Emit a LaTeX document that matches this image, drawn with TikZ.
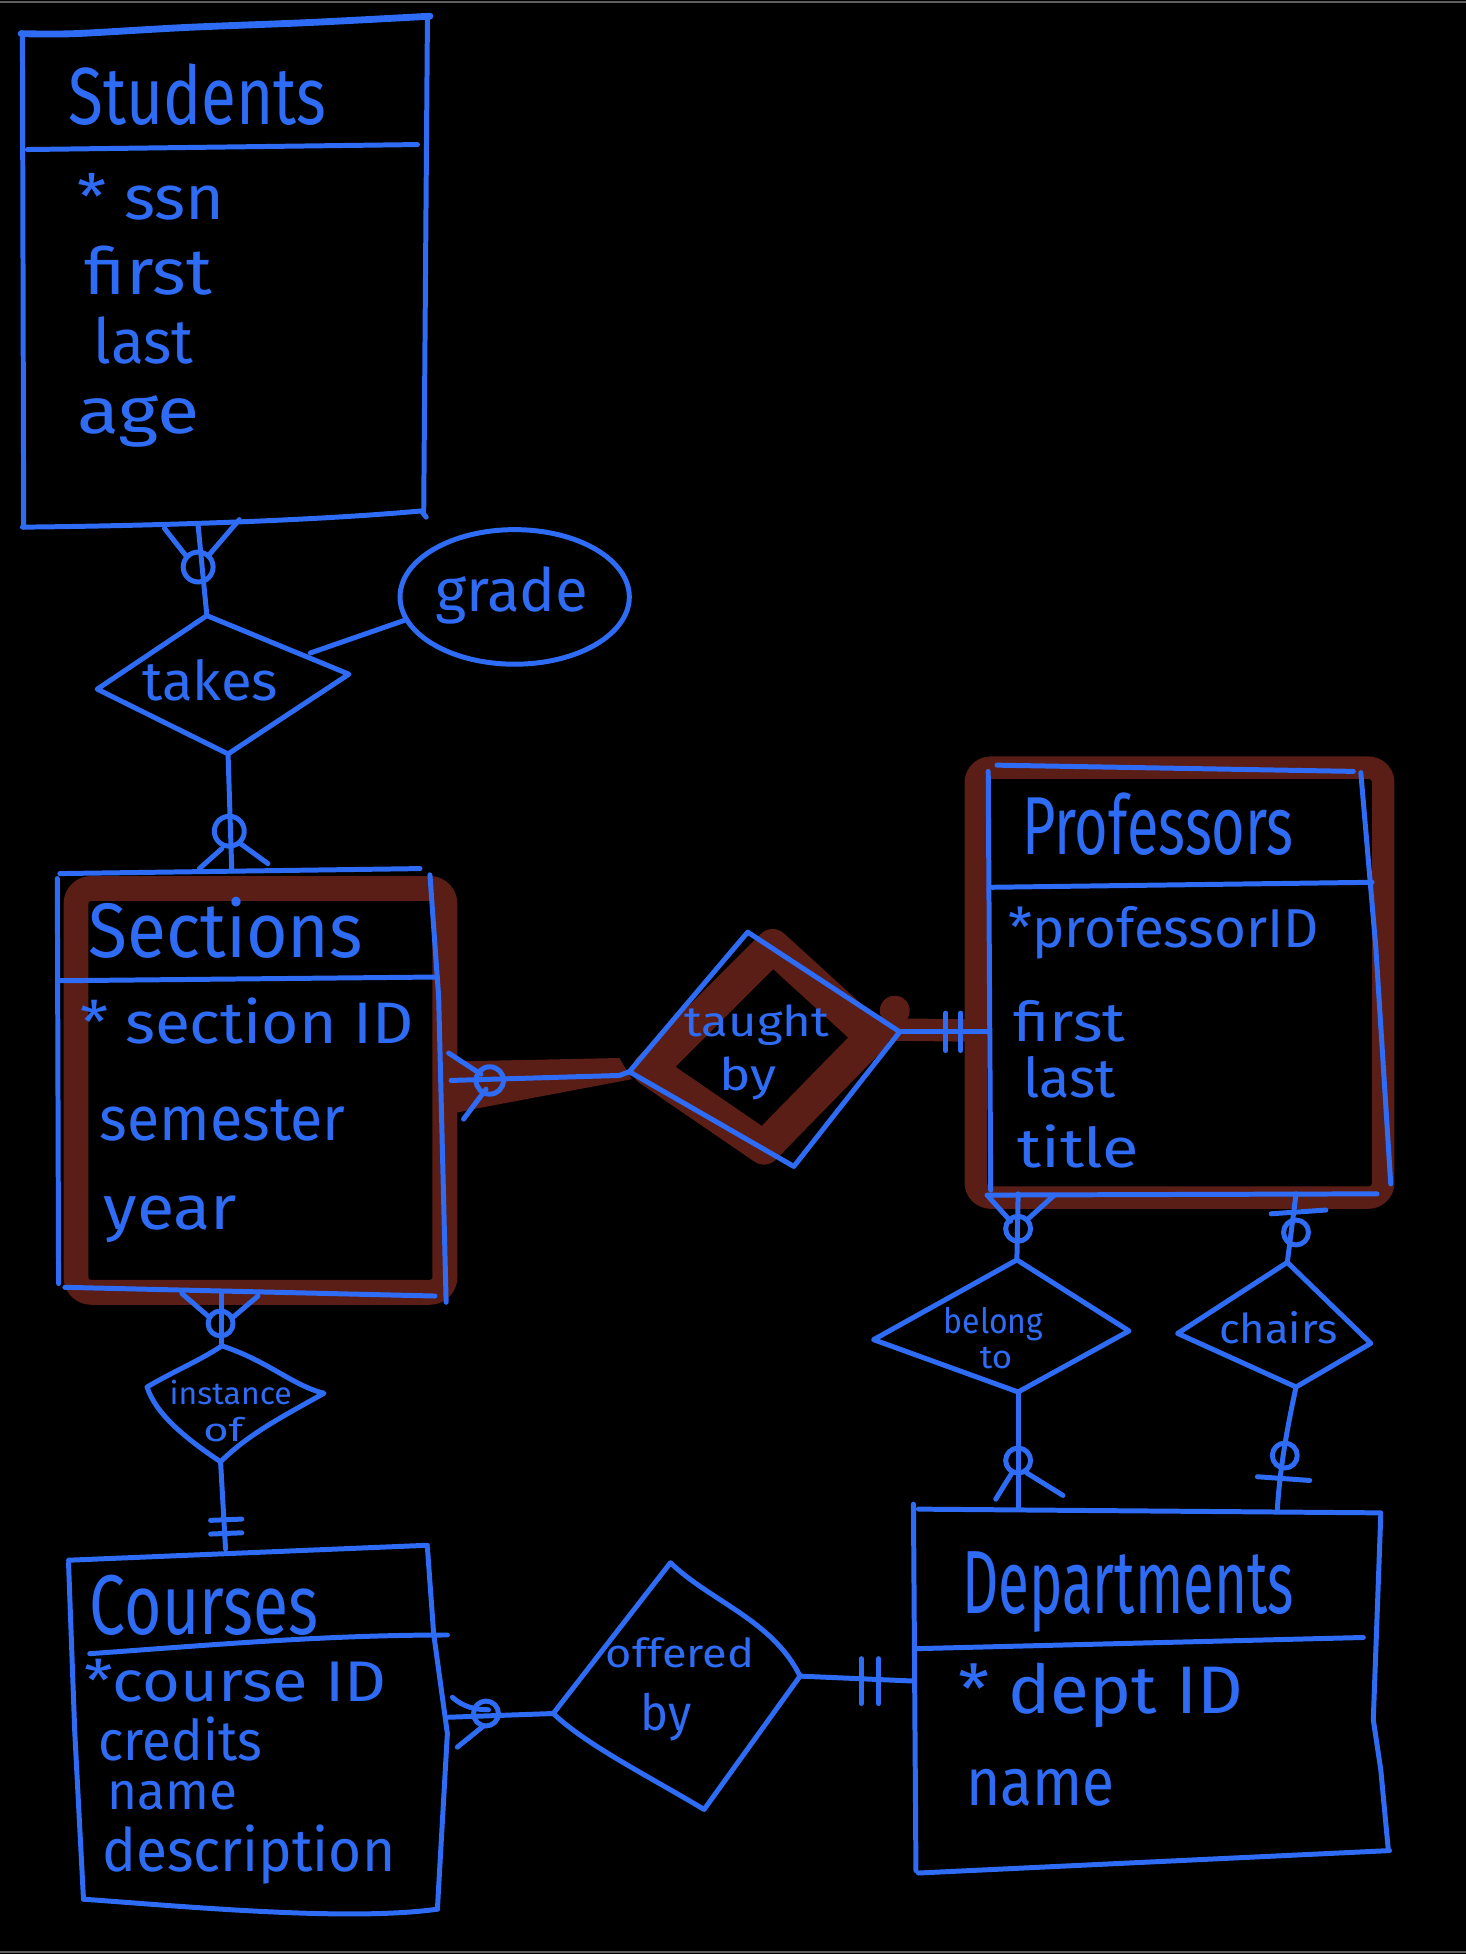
\documentclass[tikz,border=0pt]{standalone}
\usepackage{fontspec}
\setmainfont{Fira Sans}
\usepackage{graphicx}
\usetikzlibrary{shapes.geometric}
\definecolor{ink}{RGB}{47,108,246}
\definecolor{hilite}{RGB}{90,30,22}
\definecolor{rule}{RGB}{95,95,95}
% label at a given font size, stretched to a given printed width
\newcommand\fitw[3]{\resizebox{#2pt}{\height}{\fontsize{#1pt}{#1pt}\selectfont #3}}

\begin{document}
\begin{tikzpicture}[x=1pt,y=-1pt,
  pen/.style={draw=ink, line width=4pt, line cap=round, line join=round},
  thickpen/.style={pen, line width=5.5pt},
  band/.style={draw=hilite, line width=20pt, line cap=round, line join=round},
  lbl/.style={anchor=base west, inner sep=0pt, text=ink},
]
% canvas
\fill[black] (0,0) rectangle (1176,1568);
\useasboundingbox (0,0) rectangle (1176,1568);
\draw[rule, line width=1.6pt] (0,1.5) -- (1176,1.5);
\draw[rule, line width=1.6pt] (0,1566.5) -- (1176,1566.5);

% ---------- highlight strokes (weak entity / identifying relationship) ----------
\draw[band, rounded corners=12pt] (61,713) rectangle (357,1037);
\draw[band, line width=18pt, rounded corners=12pt] (783,616) rectangle (1110,961);
\draw[band, line width=27pt] (620,759) -- (700,832) -- (613,921) -- (521,858) -- cycle;
\fill[hilite] (718,811) circle (12pt);
\draw[band, line width=18pt] (705,826) -- (785,827);
\fill[hilite] (352,852) -- (497,849) -- (507,866) -- (380,890) -- (352,896) -- cycle;

% ---------- entities ----------
% Students
\draw[thickpen] plot[smooth] coordinates {(17,27) (60,27) (150,22) (250,18) (345,13)};
\draw[pen] (18,30) -- (19,423);
\draw[pen] (343,14) -- (340,412);
\draw[pen] (18,423) .. controls (120,422) and (250,418) .. (338,410) -- (342,415);
\draw[pen] (22,120) -- (335,116);
\coordinate (stuS) at (159,422);

% Sections
\draw[pen] (48,701) -- (337,697);
\draw[pen] (46,705) -- (47,1030);
\draw[pen] (345,702) -- (352,800) -- (358,1045);
\draw[pen] (52,1033) -- (349,1040);
\draw[pen] (47,787) -- (351,784);
\coordinate (secN) at (186,699);
\coordinate (secE) at (362,867);
\coordinate (secS) at (178,1037);

% Professors
\draw[pen] (800,614) -- (1086,619);
\draw[pen] (793,619) -- (795,955);
\draw[pen] (1092,620) -- (1104,760) -- (1116,950);
\draw[pen] (792,959) -- (1105,958);
\draw[pen] (796,712) -- (1101,708);
\coordinate (profW) at (794,828);
\coordinate (profS1) at (817,958);
\coordinate (profS2) at (1040,958);

% Courses
\draw[pen] (55,1252) -- (343,1240);
\draw[pen] (55,1254) -- (60,1390) -- (67,1524);
\draw[pen] (343,1242) -- (348,1311) -- (359,1391) -- (351,1532);
\draw[pen] (67,1524) .. controls (150,1530) and (280,1542) .. (351,1532);
\draw[pen] (72,1327) .. controls (170,1320) and (260,1312) .. (359,1312);
\coordinate (crsN) at (181,1243);
\coordinate (crsE) at (360,1378);

% Departments
\draw[pen] (737,1211) -- (1108,1214);
\draw[pen] (733,1207) -- (735,1501);
\draw[pen] (1108,1216) -- (1102,1380) -- (1108,1420) -- (1114,1484);
\draw[pen] (737,1503) -- (1115,1485);
\draw[pen] (734,1323) -- (1094,1314);
\coordinate (deptN1) at (817,1210);
\coordinate (deptN2) at (1025,1211);
\coordinate (deptW) at (734,1349);

% ---------- relationships ----------
\coordinate (takesN) at (166,494);
\coordinate (takesE) at (280,541);
\coordinate (takesS) at (183,605);
\coordinate (takesW) at (78,553);
\draw[pen] (takesN) -- (takesE) -- (takesS) -- (takesW) -- cycle;
\coordinate (takesG) at (249,524);

\node[draw=ink, line width=4pt, ellipse, inner sep=0pt,
      minimum width=184pt, minimum height=108pt] (grade) at (413,479) {};

\coordinate (taughtN) at (600,748);
\coordinate (taughtE) at (722,828);
\coordinate (taughtS) at (637,936);
\coordinate (taughtW) at (505,860);
\draw[pen] (taughtN) -- (taughtE) -- (taughtS) -- (taughtW) -- cycle;

\coordinate (belongN) at (816,1011);
\coordinate (belongE) at (906,1068);
\coordinate (belongS) at (817,1117);
\coordinate (belongW) at (701,1075);
\draw[pen] (belongN) -- (belongE) -- (belongS) -- (belongW) -- cycle;

\coordinate (chairsN) at (1033,1013);
\coordinate (chairsE) at (1100,1078);
\coordinate (chairsS) at (1040,1113);
\coordinate (chairsW) at (945,1070);
\draw[pen] (chairsN) -- (chairsE) -- (chairsS) -- (chairsW) -- cycle;

\coordinate (instN) at (178,1080);
\coordinate (instE) at (260,1118);
\coordinate (instS) at (177,1173);
\coordinate (instW) at (118,1113);
\draw[pen] (instN) .. controls (215,1092) and (235,1112) .. (instE)
  .. controls (230,1135) and (200,1150) .. (instS)
  .. controls (150,1155) and (125,1135) .. (instW)
  .. controls (140,1100) and (160,1092) .. cycle;

\coordinate (offN) at (538,1254);
\coordinate (offE) at (642,1345);
\coordinate (offS) at (565,1452);
\coordinate (offW) at (444,1375);
\draw[pen] (offN) .. controls (570,1285) and (620,1300) .. (offE)
  -- (offS) .. controls (520,1425) and (470,1400) .. (offW) -- cycle;

% ---------- connectors ----------
% Students -- takes (zero or many at Students)
\draw[pen] (stuS) -- (takesN);
\draw[pen] (159,455) circle (12pt);
\draw[pen] (132,424) -- (150,447);
\draw[pen] (192,417) -- (168,445);
% grade attribute
\draw[pen] (takesG) -- (grade.192);
% takes -- Sections (zero or many at Sections)
\draw[pen] (takesS) -- (secN);
\draw[pen] (184,667) circle (12pt);
\draw[pen] (160,697) -- (178,681);
\draw[pen] (215,693) -- (193,677);
% Sections -- taught by
\draw[pen] (secE) -- (497,863) -- (taughtW);
\draw[pen] (393,867) circle (11pt);
\draw[pen] (360,845) -- (386,862);
\draw[pen] (372,898) -- (390,874);
% taught by -- Professors (exactly one)
\draw[pen] (taughtE) -- (profW);
\draw[pen] (759,813) -- (759,843);
\draw[pen] (771,813) -- (771,843);
% Professors -- belong to
\draw[pen] (profS1) -- (belongN);
\draw[pen] (817,986) circle (10pt);
\draw[pen] (793,960) -- (811,980);
\draw[pen] (846,959) -- (824,979);
% Professors -- chairs
\draw[pen] (profS2) -- (chairsN);
\draw[pen] (1020,974) -- (1064,971);
\draw[pen] (1040,989) circle (10pt);
% belong to -- Departments
\draw[pen] (belongS) -- (deptN1);
\draw[pen] (817,1172) circle (10pt);
\draw[pen] (799,1203) -- (812,1182);
\draw[pen] (853,1200) -- (824,1182);
% chairs -- Departments
\draw[pen] (chairsS) .. controls (1032,1150) and (1027,1180) .. (deptN2);
\draw[pen] (1031,1168) circle (10pt);
\draw[pen] (1009,1185) -- (1051,1188);
% Sections -- instance of
\draw[pen] (secS) -- (instN);
\draw[pen] (177,1062) circle (10pt);
\draw[pen] (146,1038) -- (168,1057);
\draw[pen] (207,1040) -- (187,1057);
% instance of -- Courses
\draw[pen] (instS) -- (crsN);
\draw[pen] (169,1220) -- (194,1219);
\draw[pen] (169,1231) -- (194,1230);
% Courses -- offered by
\draw[pen] (crsE) -- (offW);
\draw[pen] (390,1375) circle (10pt);
\draw[pen] (363,1362) .. controls (372,1370) and (382,1372) .. (392,1372);
\draw[pen] (367,1402) -- (388,1385);
% offered by -- Departments
\draw[pen] (offE) -- (deptW);
\draw[pen] (691,1331) -- (691,1367);
\draw[pen] (705,1331) -- (705,1367);

% ---------- labels ----------
\node[lbl] (lStu)  at (55,100)  {\fitw{65}{207}{Students}};
\node[lbl] (lStu1) at (62,176)  {\fitw{50}{118}{* ssn}};
\node[lbl] (lStu2) at (68,236)  {\fitw{52}{102}{first}};
\node[lbl] (lStu3) at (75,292)  {\fitw{50}{80}{last}};
\node[lbl] (lStu4) at (62,348)  {\fitw{52}{98}{age}};

\node[lbl] (lGrade) at (349,491) {\fitw{48}{123}{grade}};
\node[lbl] (lTakes) at (114,562) {\fitw{44}{109}{takes}};

\node[lbl] (lSec)  at (71,768)  {\fitw{62}{220}{Sections}};
\node[lbl] (lSec1) at (64,837)  {\fitw{47}{268}{* section ID}};
\node[lbl] (lSec2) at (80,915)  {\fitw{50}{197}{semester}};
\node[lbl] (lSec3) at (83,987)  {\fitw{50}{107}{year}};

\node[lbl] (lTau1) at (549,832) {\fitw{34}{116}{taught}};
\node[lbl] (lTau2) at (577,875) {\fitw{36}{46}{by}};

\node[lbl] (lProf)  at (820,686) {\fitw{66}{218}{Professors}};
\node[lbl] (lProf1) at (809,760) {\fitw{44}{249}{*professorID}};
\node[lbl] (lProf2) at (813,836) {\fitw{44}{90}{first}};
\node[lbl] (lProf3) at (821,881) {\fitw{44}{74}{last}};
\node[lbl] (lProf4) at (816,937) {\fitw{44}{98}{title}};

\node[lbl] (lBel1) at (757,1070) {\fitw{28}{80}{belong}};
\node[lbl] (lBel2) at (786,1098) {\fitw{26}{26}{to}};
\node[lbl] (lChairs) at (978,1078) {\fitw{33}{95}{chairs}};

\node[lbl] (lInst1) at (136,1127) {\fitw{25}{98}{instance}};
\node[lbl] (lInst2) at (163,1157) {\fitw{26}{32}{of}};

\node[lbl] (lCrs)  at (72,1312)  {\fitw{68}{183}{Courses}};
\node[lbl] (lCrs1) at (68,1365)  {\fitw{46}{242}{*course ID}};
\node[lbl] (lCrs2) at (79,1413)  {\fitw{45}{131}{credits}};
\node[lbl] (lCrs3) at (86,1452)  {\fitw{42}{104}{name}};
\node[lbl] (lCrs4) at (82,1502)  {\fitw{48}{235}{description}};

\node[lbl] (lOff1) at (486,1338) {\fitw{32}{119}{offered}};
\node[lbl] (lOff2) at (514,1389) {\fitw{40}{41}{by}};

\node[lbl] (lDep)  at (772,1295) {\fitw{72}{266}{Departments}};
\node[lbl] (lDep1) at (769,1375) {\fitw{54}{228}{* dept ID}};
\node[lbl] (lDep2) at (775,1449) {\fitw{54}{119}{name}};
\end{tikzpicture}
\end{document}
